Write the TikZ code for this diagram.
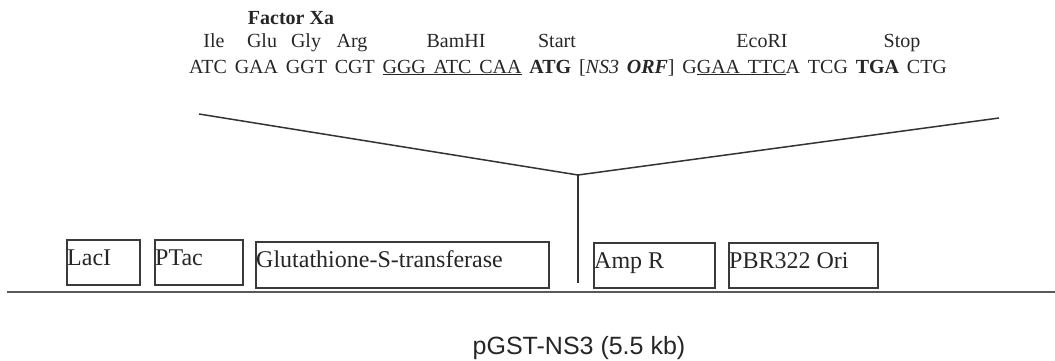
\documentclass[tikz,border=0pt]{standalone}
\usepackage{fontspec}
\setmainfont{Liberation Serif}
\newfontfamily\arialf{Liberation Sans}
\definecolor{ink}{HTML}{333333}
\definecolor{boxink}{HTML}{3A3A3A}
\begin{document}
\begin{tikzpicture}[x=1pt,y=-1pt,
  gbox/.style={draw=boxink,line width=1.6pt,anchor=north west,inner sep=0pt},
  btext/.style={anchor=base west,inner sep=0pt,font=\fontsize{24}{24}\selectfont,text=black!85},
  aa/.style={anchor=base,inner sep=0pt,font=\fontsize{20}{20}\selectfont,text=black!85},
  conn/.style={draw=ink,line width=1.5pt},
  axis/.style={draw=black!65,line width=2.2pt}]
\useasboundingbox (0,0) rectangle (1055,360);
% top annotation
\node[aa,font=\fontsize{20}{20}\bfseries] (fxa) at (291,24) {Factor Xa};
\node[aa] (ile) at (214,47) {Ile};
\node[aa] (glu) at (262,47) {Glu};
\node[aa] (gly) at (306,47) {Gly};
\node[aa] (arg) at (352,47) {Arg};
\node[aa] (bam) at (456,47) {BamHI};
\node[aa] (start) at (557,47) {Start};
\node[aa] (eco) at (762,47) {EcoRI};
\node[aa] (stop) at (902,47) {Stop};
\node[aa,anchor=base west] (seq) at (189,73) {\spaceskip=7.8pt\relax ATC GAA GGT CGT \underline{GGG\hspace{7.8pt}ATC\hspace{7.8pt}CAA} \textbf{ATG} [\textit{NS3} \textbf{\textit{ORF}}] G\underline{GAA\hspace{7.8pt}TTC}A TCG \textbf{TGA} CTG};
% insertion lines
\coordinate (vl) at (199,114);
\coordinate (vr) at (999,118);
\coordinate (vx) at (578,175);
\coordinate (vb) at (578,283);
\draw[conn] (vl) -- (vx) -- (vr);
\draw[draw=ink,line width=1.3pt] (vx) -- (vb);
% boxes
\node[gbox,minimum width=73,minimum height=45] (lac) at (66,239) {};
\node[gbox,minimum width=88,minimum height=45] (ptac) at (154,239) {};
\node[gbox,minimum width=293,minimum height=46] (gst) at (255,241) {};
\node[gbox,minimum width=121,minimum height=45] (amp) at (593,242) {};
\node[gbox,minimum width=149,minimum height=45] (ori) at (728,242) {};
\node[btext] (lact) at ([xshift=1pt,yshift=-26pt]lac.north west) {LacI};
\node[btext] (ptact) at ([xshift=1pt,yshift=-26pt]ptac.north west) {PTac};
\node[btext] (gstt) at ([xshift=1pt,yshift=-26pt]gst.north west) {Glutathione-S-transferase};
\node[btext] (ampt) at ([xshift=1pt,yshift=-26pt]amp.north west) {Amp R};
\node[btext] (orit) at ([xshift=1pt,yshift=-26pt]ori.north west) {PBR322 Ori};
% plasmid axis
\coordinate (al) at (7,292);
\coordinate (ar) at (1055,292);
\draw[axis] (al) -- (ar);
\node[anchor=base,inner sep=0pt,font=\arialf\fontsize{25}{25}\selectfont,text=black!85] (title) at (579,354) {pGST-NS3 (5.5 kb)};
\end{tikzpicture}
\end{document}
